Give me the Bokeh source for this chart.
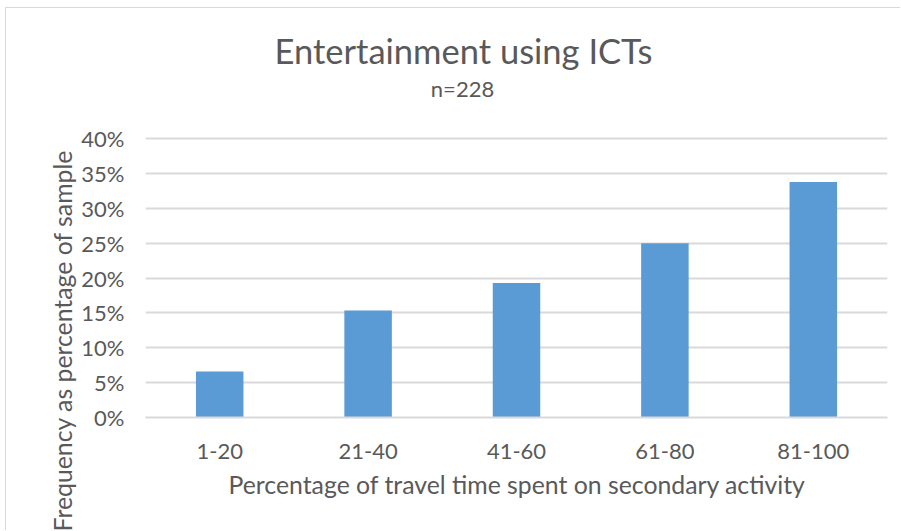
from bokeh.plotting import figure
from bokeh.models import (ColumnDataSource, FactorRange, Range1d, FixedTicker,
                          NumeralTickFormatter, Title, Label)
from bokeh.embed import file_html
from bokeh.resources import INLINE

# Share of travel time spent on the secondary activity (bins) and the
# share of respondents falling in each bin (n = 228)
categories = ["1-20", "21-40", "41-60", "61-80", "81-100"]
frequency = [0.0658, 0.1535, 0.1930, 0.2500, 0.3377]
y_ticks = [0.0, 0.05, 0.10, 0.15, 0.20, 0.25, 0.30, 0.35, 0.40]

title_text = "Entertainment using ICTs"
subtitle_text = "n=228"
x_title = "Percentage of travel time spent on secondary activity"
y_title = "Frequency as percentage of sample"

FONT = "Lato"
TEXT = "#595959"
GRID = "#d9d9d9"
BAR = "#5b9bd5"

# canvas size (inside the thin chart border) and frame margins
W, H = 895, 523
LEFT, RIGHT, TOP, BOTTOM = 139, 14, 10, 114
AXIS_TOP_PX = 130                      # where the 40 % line sits
frame_h = H - TOP - BOTTOM
y_max = y_ticks[-1] * frame_h / (H - BOTTOM - AXIS_TOP_PX)

source = ColumnDataSource(data=dict(cat=categories, val=frequency))

p = figure(width=W, height=H, x_range=FactorRange(*categories, range_padding=0),
           y_range=Range1d(0, y_max), output_backend="svg", toolbar_location=None,
           min_border_left=LEFT, min_border_right=RIGHT, min_border_top=TOP,
           min_border_bottom=BOTTOM)
p.outline_line_color = None
p.background_fill_color = "white"
p.border_fill_color = "white"
p.margin = (7, 0, 0, 5)
p.styles = {"border-top": f"1px solid {GRID}", "border-left": f"1px solid {GRID}"}

p.vbar(x="cat", top="val", width=0.32, source=source, fill_color=BAR,
       line_color=None)

# axes
p.yaxis.ticker = FixedTicker(ticks=y_ticks)
p.yaxis.formatter = NumeralTickFormatter(format="0%")
for ax in (p.xaxis[0], p.yaxis[0]):
    ax.major_tick_line_color = None
    ax.minor_tick_line_color = None
    ax.major_label_text_font = FONT
    ax.major_label_text_color = TEXT
    ax.major_label_text_font_size = "22px"
p.yaxis.axis_line_color = None
p.yaxis.major_label_standoff = 15
p.xaxis.axis_line_color = GRID
p.xaxis.axis_line_width = 2
p.xaxis.major_label_standoff = 20

p.xgrid.grid_line_color = None
p.ygrid.grid_line_color = GRID
p.ygrid.grid_line_width = 2

# axis titles
p.add_layout(Title(text=x_title, align="left", offset=83, standoff=12,
                   text_font=FONT, text_font_size="24.8px", text_color=TEXT,
                   text_font_style="normal"), "below")
p.add_layout(Title(text=y_title, align="left", offset=-114, standoff=4,
                   text_font=FONT, text_font_size="24.8px", text_color=TEXT,
                   text_font_style="normal"), "left")

# chart title and sample size, positioned from the frame's lower-left corner
p.add_layout(Label(x=318, y=367, x_units="screen", y_units="screen",
                   text=title_text, text_font=FONT, text_font_size="34.5px",
                   text_color=TEXT, text_align="center",
                   text_baseline="alphabetic"))
p.add_layout(Label(x=317, y=329, x_units="screen", y_units="screen",
                   text=subtitle_text, text_font=FONT, text_font_size="22px",
                   text_color=TEXT, text_align="center",
                   text_baseline="alphabetic"))

open("out.html", "w").write(file_html(p, INLINE))
